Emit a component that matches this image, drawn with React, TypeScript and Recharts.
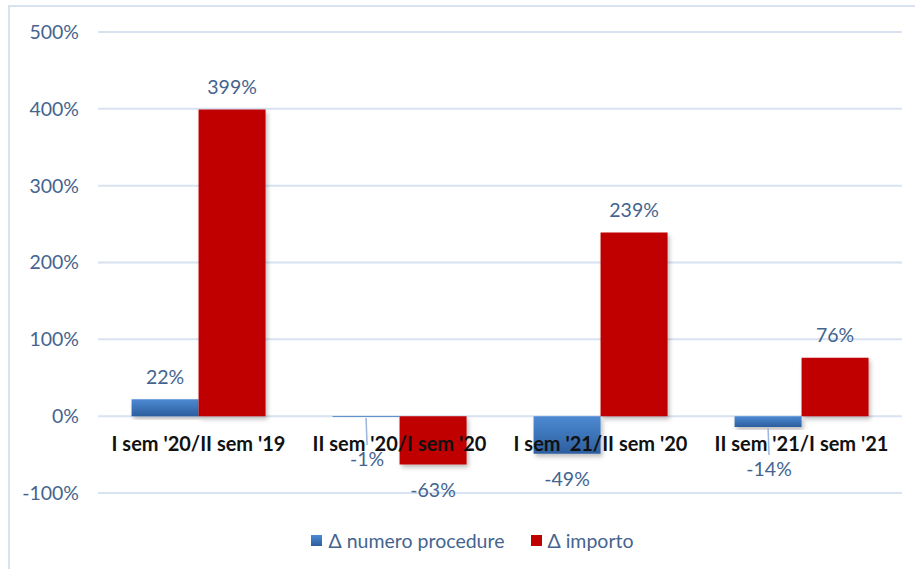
import React from 'react';
import { BarChart, Bar, XAxis, YAxis, CartesianGrid, Legend, LabelList } from 'recharts';

const categories = ["I sem '20/II sem '19", "II sem '20/I sem '20", "I sem '21/II sem '20", "II sem '21/I sem '21"];
const numeroProcedure = [22, -1, -49, -14];
const importo = [399, -63, 239, 76];
const yTicks = [-100, 0, 100, 200, 300, 400, 500];

const W = 915;
const H = 569;
const MARGIN = { top: 32, right: 13, left: 8, bottom: 14 };
const X_AXIS_H = 32;
const LEGEND_H = 30;
const PLOT_H = H - MARGIN.top - MARGIN.bottom - X_AXIS_H - LEGEND_H;
const Y_MIN = -100;
const Y_MAX = 500;

const FONT = 'Lato, "Noto Sans", sans-serif';
const LABEL_COLOR = '#44648f';
const RED = '#c00000';
const TXT = 19.5;

const data = categories.map((name, i) => ({
  name,
  numero: numeroProcedure[i],
  importo: importo[i],
}));

// category labels sit just under the zero line, not at the bottom of the plot
const CategoryTick = (props: any) => {
  const { x, y, payload } = props;
  const zeroShift = (PLOT_H * (0 - Y_MIN)) / (Y_MAX - Y_MIN);
  return (
    <text
      x={x}
      y={y - zeroShift + 35}
      textAnchor="middle"
      fontFamily={FONT}
      fontWeight={700}
      fontSize={20}
      fill="#111"
    >
      {payload.value}
    </text>
  );
};

const ValueLabel = (props: any) => {
  const { x, y, width, height, value } = props;
  const top = Math.min(y, y + height);
  const bottom = Math.max(y, y + height);
  const cx = x + width / 2;
  const text = `${value}%`;
  if (value >= 0) {
    return (
      <text x={cx} y={top - 23} textAnchor="middle" dominantBaseline="central"
        fontFamily={FONT} fontSize={TXT} fill={LABEL_COLOR}>
        {text}
      </text>
    );
  }
  // small negative values get pushed down with a leader line
  const small = Math.abs(value) < 20;
  const ly = bottom + (small ? 42 : 25);
  return (
    <g>
      {small && (
        <line x1={cx} y1={bottom + 1} x2={cx + 1} y2={ly - 14} stroke="#9db5d9" strokeWidth={1.5} />
      )}
      <text x={cx + (small ? 1 : 0)} y={ly} textAnchor="middle" dominantBaseline="central"
        fontFamily={FONT} fontSize={TXT} fill={LABEL_COLOR}>
        {text}
      </text>
    </g>
  );
};

const LegendContent = () => (
  <div style={{ height: LEGEND_H, display: 'flex', justifyContent: 'center', alignItems: 'center',
    fontFamily: FONT, fontSize: TXT, color: LABEL_COLOR, paddingLeft: 34 }}>
    <span style={{ display: 'flex', alignItems: 'center', marginRight: 27 }}>
      <span style={{ width: 11, height: 11, marginRight: 7,
        background: 'linear-gradient(#4d8ad3, #2c5e9e)' }} />
      Δ numero procedure
    </span>
    <span style={{ display: 'flex', alignItems: 'center' }}>
      <span style={{ width: 11, height: 11, marginRight: 5, background: RED }} />
      Δ importo
    </span>
  </div>
);

export default function App() {
  return (
    <div style={{ position: 'absolute', left: 0, top: 0, width: W, height: H, overflow: 'hidden', background: '#fff' }}>
      <div style={{ position: 'absolute', left: 8, top: 5, width: W + 20, height: H + 20,
        border: '2px solid #d8e2f1', boxSizing: 'border-box' }} />
      <div style={{ position: 'absolute', left: 0, top: 0 }}>
        <BarChart width={W} height={H} data={data} margin={MARGIN} barCategoryGap="16.7%" barGap={0}>
          <defs>
            <linearGradient id="blueGrad" x1="0" y1="0" x2="0" y2="1">
              <stop offset="0%" stopColor="#4d8ad3" />
              <stop offset="100%" stopColor="#2c5e9e" />
            </linearGradient>
            <filter id="barShadow" x="-10%" y="-10%" width="130%" height="130%">
              <feDropShadow dx="2" dy="3" stdDeviation="2" floodColor="#000" floodOpacity="0.25" />
            </filter>
          </defs>
          <CartesianGrid vertical={false} stroke="#d8e2f1" strokeWidth={2} />
          <XAxis
            dataKey="name"
            height={X_AXIS_H}
            axisLine={false}
            tickLine={false}
            tickSize={0}
            tickMargin={0}
            interval={0}
            tick={<CategoryTick />}
          />
          <YAxis
            width={90}
            domain={[Y_MIN, Y_MAX]}
            ticks={yTicks}
            axisLine={false}
            tickLine={false}
            tickSize={0}
            tickMargin={19}
            tickFormatter={(v) => `${v}%`}
            tick={{ fontFamily: FONT, fontSize: TXT, fill: LABEL_COLOR }}
          />
          <Legend verticalAlign="bottom" height={LEGEND_H} content={<LegendContent />} />
          <Bar dataKey="numero" name="Δ numero procedure" fill="url(#blueGrad)" filter="url(#barShadow)" isAnimationActive={false}>
            <LabelList dataKey="numero" content={<ValueLabel />} />
          </Bar>
          <Bar dataKey="importo" name="Δ importo" fill={RED} filter="url(#barShadow)" isAnimationActive={false}>
            <LabelList dataKey="importo" content={<ValueLabel />} />
          </Bar>
        </BarChart>
      </div>
    </div>
  );
}
